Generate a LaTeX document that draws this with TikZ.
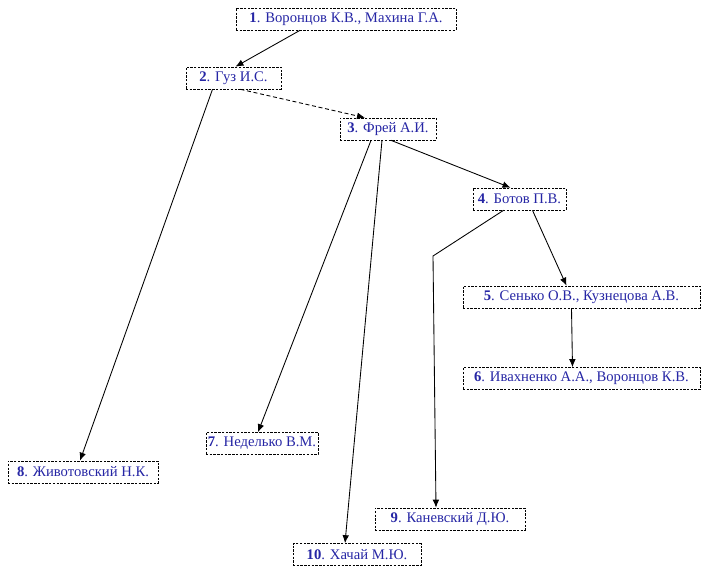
\documentclass[tikz,border=0pt]{standalone}
\usepackage{fontspec}
\setmainfont{Liberation Serif}
\usetikzlibrary{arrows.meta,calc}
\definecolor{nameblue}{RGB}{38,38,165}
\tikzset{
  person/.style={draw=black, line width=0.5pt, dash pattern=on 1.8pt off 1pt,
    text=nameblue, font=\fontsize{11}{13}\selectfont, minimum height=16.5pt,
    inner sep=1pt, fill=white},
  link/.style={draw=black, line width=0.65pt, -{Latex[length=6pt,width=5pt]}},
  dlink/.style={link, dash pattern=on 3pt off 2pt}
}
\begin{document}
\begin{tikzpicture}[x=0.75pt,y=-0.75pt]
\useasboundingbox (0,0) rectangle (701,568);
\node[person, minimum width=165pt]   (n1)  at (346,19)    {\textbf{1}. Воронцов К.В., Махина Г.А.};
\node[person, minimum width=71.25pt] (n2)  at (233.5,78)  {\textbf{2}. Гуз И.С.};
\node[person, minimum width=72pt]    (n3)  at (388,129)   {\textbf{3}. Фрей А.И.};
\node[person, minimum width=69.75pt] (n4)  at (519.5,199) {\textbf{4}. Ботов П.В.};
\node[person, minimum width=177.75pt](n5)  at (581.5,297) {\textbf{5}. Сенько О.В., Кузнецова А.В.};
\node[person, minimum width=177.75pt](n6)  at (581.5,378.5) {\textbf{6}. Ивахненко А.А., Воронцов К.В.};
\node[person, minimum width=84pt]    (n7)  at (262,443.5) {\textbf{7}. Неделько В.М.};
\node[person, minimum width=112.5pt] (n8)  at (83,472)    {\textbf{8}. Животовский Н.К.};
\node[person, minimum width=112.5pt] (n9)  at (450,519)   {\textbf{9}. Каневский Д.Ю.};
\node[person, minimum width=96pt]    (n10) at (357,554.5) {\textbf{10}. Хачай М.Ю.};

\draw[link]  ($(n1.south)+(-46,0)$) -- ($(n2.north)+(2,0)$);
\draw[dlink] ($(n2.south)+(7,0)$) -- ($(n3.north)+(-23,0)$);
\draw[link]  ($(n2.south)+(-21,0)$) -- ($(n8.north)+(-3,0)$);
\draw[link]  ($(n3.south)+(-17,0)$) -- ($(n7.north)+(-4,0)$);
\draw[link]  ($(n3.south)+(-6,0)$) -- ($(n10.north)+(-12,0)$);
\draw[link]  ($(n3.south)+(3,0)$) -- ($(n4.north)+(-9,0)$);
\coordinate (bend) at (433,256);
\draw[link]  ($(n4.south)+(-16,0)$) -- (bend) -- ($(n9.north)+(-14,0)$);
\draw[link]  ($(n4.south)+(13,0)$) -- ($(n5.north)+(-15,0)$);
\draw[link]  ($(n5.south)+(-10,0)$) -- ($(n6.north)+(-9,0)$);
\end{tikzpicture}
\end{document}
